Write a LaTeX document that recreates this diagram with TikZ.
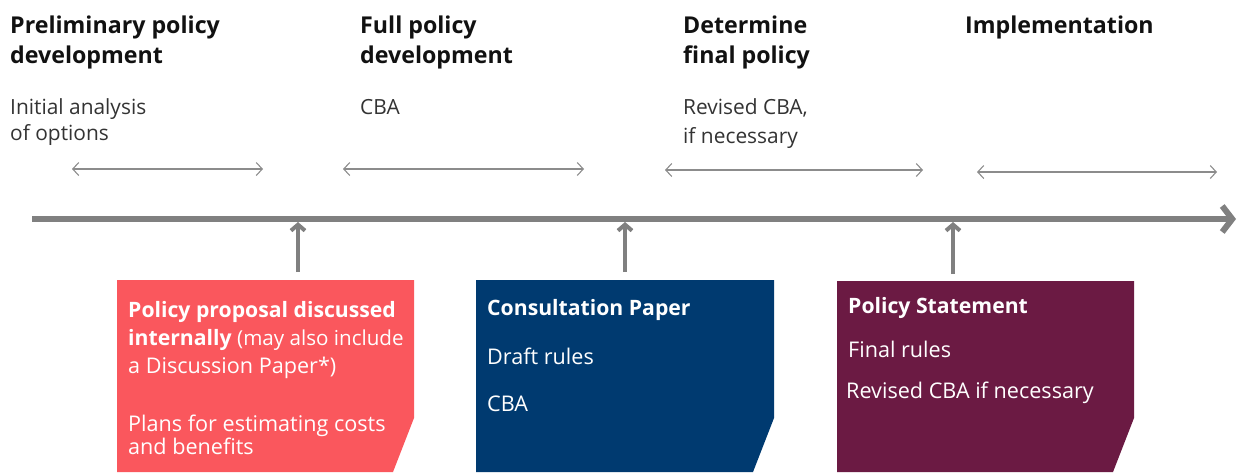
\documentclass[tikz,border=0pt]{standalone}
\usepackage{fontspec}
\setmainfont{Open Sans}
\usetikzlibrary{arrows.meta}
\definecolor{axisgray}{HTML}{808080}
\definecolor{spangray}{HTML}{8C8C8C}
\definecolor{propred}{HTML}{FA575D}
\definecolor{cpblue}{HTML}{003A70}
\definecolor{pspurple}{HTML}{6B1A43}
\definecolor{inkdark}{HTML}{111111}
\definecolor{inksoft}{HTML}{333333}
\tikzset{
  head/.style={anchor=base west, inner sep=0pt, text=inkdark,
    font=\fontsize{23.2}{23.2}\selectfont\bfseries},
  sub/.style={anchor=base west, inner sep=0pt, text=inksoft,
    font=\fontsize{20.9}{20.9}\selectfont},
  boxhead/.style={anchor=base west, inner sep=0pt, text=white,
    font=\fontsize{21.2}{21.2}\selectfont\bfseries},
  boxtext/.style={anchor=base west, inner sep=0pt, text=white,
    font=\fontsize{21.6}{21.6}\selectfont},
  span/.style={draw=spangray, line width=1.1pt,
    {Straight Barb[length=6pt,width=13pt]}-{Straight Barb[length=6pt,width=13pt]}},
  timeline/.style={draw=axisgray, line width=6pt,
    -{Straight Barb[length=10pt,width=26pt,line width=6pt]}},
  milestone/.style={draw=axisgray, line width=4pt,
    -{Straight Barb[length=6pt,width=14pt,line width=4pt]}},
}
\begin{document}
\begin{tikzpicture}[x=1pt,y=-1pt]
\useasboundingbox (0,0) rectangle (1238,472);

% phase headings
\node[head] (h1a) at (10,33) {Preliminary policy};
\node[head] (h1b) at (10,63) {development};
\node[head] (h2a) at (360,33) {Full policy};
\node[head] (h2b) at (360,63) {development};
\node[head] (h3a) at (683,33) {Determine};
\node[head] (h3b) at (683,63) {final policy};
\node[head] (h4a) at (965,33) {Implementation};

% analysis carried out in each phase
\node[sub] (s1a) at (10,114) {Initial analysis};
\node[sub] (s1b) at (10,140) {of options};
\node[sub] (s2a) at (360,114) {CBA};
\node[sub] (s3a) at (683,114) {Revised CBA,};
\node[sub] (s3b) at (683,143) {if necessary};

% extent of each phase
\coordinate (p1l) at (72,169);  \coordinate (p1r) at (263,169);
\coordinate (p2l) at (343,169); \coordinate (p2r) at (584,169);
\coordinate (p3l) at (665,170); \coordinate (p3r) at (923,170);
\coordinate (p4l) at (977,172); \coordinate (p4r) at (1217,172);
\draw[span] (p1l) -- (p1r);
\draw[span] (p2l) -- (p2r);
\draw[span] (p3l) -- (p3r);
\draw[span] (p4l) -- (p4r);

% time axis
\coordinate (axL) at (32,219);
\coordinate (axR) at (1236,219);
\draw[timeline] (axL) -- (axR);

% publication boxes (bottom right corner cut off)
\fill[propred] (117,280) -- (414,280) -- (414,418) -- (393,472) -- (117,472) -- cycle;
\fill[cpblue] (476,280) -- (774,280) -- (774,418) -- (753,472) -- (476,472) -- cycle;
\fill[pspurple] (837,281) -- (1134,281) -- (1134,418) -- (1113,472) -- (837,472) -- cycle;

% milestones pointing to the time axis
\coordinate (m1b) at (298,272); \coordinate (m1t) at (298,222);
\coordinate (m2b) at (625,272); \coordinate (m2t) at (625,222);
\coordinate (m3b) at (953,274); \coordinate (m3t) at (953,222);
\draw[milestone] (m1b) -- (m1t);
\draw[milestone] (m2b) -- (m2t);
\draw[milestone] (m3b) -- (m3t);

% box contents
\node[boxhead] (r1) at (128,317) {Policy proposal discussed};
\node[boxhead] (r2) at (128,345) {internally\ \fontsize{20.6}{20.6}\selectfont\mdseries(may also include};
\node[boxtext] (r3) at (128,373) {a Discussion Paper*)};
\node[boxtext] (r4) at (128,431) {Plans for estimating costs};
\node[boxtext] (r5) at (128,454) {and benefits};

\node[boxhead] (b1) at (487,315) {Consultation Paper};
\node[boxtext] (b2) at (487,364) {Draft rules};
\node[boxtext] (b3) at (487,411) {CBA};

\node[boxhead] (q1) at (848,313) {Policy Statement};
\node[boxtext] (q2) at (848,357) {Final rules};
\node[boxtext] (q3) at (846,398) {Revised CBA if necessary};
\end{tikzpicture}
\end{document}
